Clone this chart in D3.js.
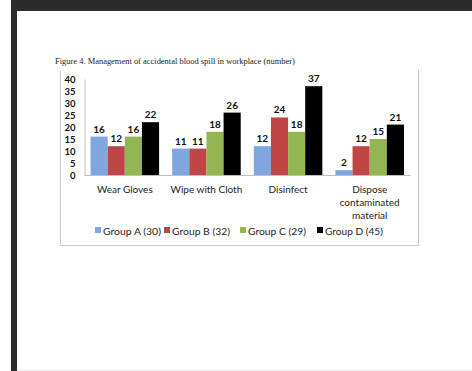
<!DOCTYPE html>
<html><head><meta charset="utf-8">
<script src="https://cdn.jsdelivr.net/npm/d3@7/dist/d3.min.js"></script>
<style>
html,body{margin:0;padding:0;background:#fff;overflow:hidden;}
</style>
</head><body>
<svg id="c" width="472" height="371"></svg>
<script>
const categories = [["Wear Gloves"], ["Wipe with Cloth"], ["Disinfect"], ["Dispose","contaminated","material"]];
const seriesNames = ["Group A (30)", "Group B (32)", "Group C (29)", "Group D (45)"];
const groupA = [16, 11, 12, 2];
const groupB = [12, 11, 24, 12];
const groupC = [16, 18, 18, 15];
const groupD = [22, 26, 37, 21];
const yTicks = [0, 5, 10, 15, 20, 25, 30, 35, 40];
const colors = ["#7fa6df", "#bf4646", "#93b554", "#000000"];
const title = "Figure 4.  Management of accidental blood spill in workplace (number)";

const series = [groupA, groupB, groupC, groupD];
const svg = d3.select("#c");
const font = "Lato, 'Open Sans', sans-serif";

function fitWidth(sel, w){
  sel.each(function(){
    const t = d3.select(this);
    const fs = parseFloat(t.attr("font-size"));
    const len = this.getComputedTextLength();
    if (len > 0) t.attr("font-size", (fs * w / len).toFixed(2));
  });
}

// page frame
svg.append("rect").attr("x",11).attr("y",0).attr("width",461).attr("height",11).attr("fill","#2b2b2b");
svg.append("rect").attr("x",11).attr("y",0).attr("width",6).attr("height",371).attr("fill","#2b2b2b");
svg.append("rect").attr("x",17).attr("y",369).attr("width",455).attr("height",2).attr("fill","#f2f2f2");

// title
svg.append("text").attr("x",55).attr("y",64).attr("font-family","'Liberation Serif', serif")
  .attr("font-size",8).attr("fill","#222").text(title).call(fitWidth, 240);

// chart box (no top edge)
svg.append("path").attr("d","M60.5,71 V245.5 H418.5 V70").attr("fill","none").attr("stroke","#c8c8c8").attr("stroke-width",1);

const x0 = d3.scaleBand().domain(d3.range(categories.length)).range([84, 410.5]).paddingInner(0.16).paddingOuter(0.08);
const x1 = d3.scaleBand().domain(d3.range(series.length)).range([0, x0.bandwidth()]);
const y = d3.scaleLinear().domain([0, 40]).range([175, 79]);

// y axis
const yAxis = d3.axisLeft(y).tickValues(yTicks).tickSize(0).tickPadding(9);
const ga = svg.append("g").attr("transform","translate(84.5,0)").call(yAxis);
ga.select(".domain").attr("stroke","#bfbfbf");
ga.selectAll("text").attr("font-family",font).attr("font-size",9.5).attr("fill","#111").attr("font-weight",700);

// bars
const groups = svg.append("g").selectAll("g").data(series).join("g").attr("fill",(d,i)=>colors[i]);
groups.selectAll("rect").data((d,i)=>d.map((v,j)=>({v,j,i}))).join("rect")
  .attr("x",d=>x0(d.j)+x1(d.i)).attr("width",x1.bandwidth())
  .attr("y",d=>y(d.v)).attr("height",d=>y(0)-y(d.v));
// labels
groups.selectAll("text").data((d,i)=>d.map((v,j)=>({v,j,i}))).join("text")
  .attr("x",d=>x0(d.j)+x1(d.i)+x1.bandwidth()/2).attr("y",d=>y(d.v)-4)
  .attr("text-anchor","middle").attr("font-family",font).attr("font-size",10).attr("font-weight",700)
  .attr("fill","#111").text(d=>d.v);

// baseline
svg.append("line").attr("x1",84).attr("x2",410.5).attr("y1",175.5).attr("y2",175.5).attr("stroke","#bfbfbf");

// category labels
const cl = svg.append("g").selectAll("text").data(categories).join("text")
  .attr("text-anchor","middle").attr("font-family",font).attr("font-size",10).attr("fill","#222")
  .attr("x",(d,i)=>x0(i)+x0.bandwidth()/2).attr("y",192.5);
cl.selectAll("tspan").data(d=>d).join("tspan")
  .attr("x",function(){return d3.select(this.parentNode).attr("x");})
  .attr("dy",(d,i)=>i===0?0:13).text(d=>d);

// legend
const lg = svg.append("g");
const legStarts = [95, 164, 240, 317];
seriesNames.forEach((n,i)=>{
  lg.append("rect").attr("x",legStarts[i]).attr("y",227).attr("width",6).attr("height",6).attr("fill",colors[i]);
  lg.append("text").attr("x",legStarts[i]+8).attr("y",234.5).attr("font-family",font).attr("font-size",10.5)
    .attr("fill","#222").text(n).call(fitWidth, 58);
});
</script>
</body></html>
